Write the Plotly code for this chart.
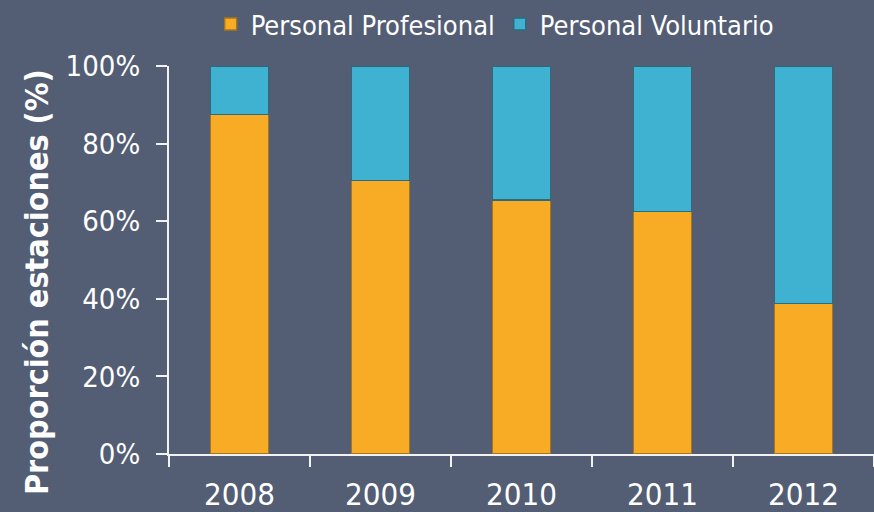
import plotly.graph_objects as go

years = ["2008", "2009", "2010", "2011", "2012"]
profesional = [87.5, 70.5, 65.5, 62.5, 38.8]
voluntario = [100 - v for v in profesional]
y_ticks = [0, 20, 40, 60, 80, 100]
y_tick_labels = ["0%", "20%", "40%", "60%", "80%", "100%"]

BG = "#535d73"
FONT = "DejaVu Sans Condensed, DejaVu Sans, sans-serif"

fig = go.Figure()
fig.add_trace(go.Bar(
    x=years, y=profesional, name="Personal Profesional",
    marker=dict(color="#f8ac26", line=dict(color="#a8741c", width=1.5)),
))
fig.add_trace(go.Bar(
    x=years, y=voluntario, name="Personal Voluntario",
    marker=dict(color="#40b2d1", line=dict(color="#2d6a7e", width=1.5)),
))

fig.update_layout(
    barmode="stack",
    bargap=0.59,
    width=874, height=512,
    paper_bgcolor=BG, plot_bgcolor=BG,
    margin=dict(l=169, r=0, t=66, b=58),
    font=dict(family=FONT, color="white"),
    showlegend=True,
    legend=dict(
        orientation="h", xref="container", yref="container",
        x=0.566, xanchor="center", y=1.0, yanchor="top",
        font=dict(size=27, family=FONT, color="white"),
        bgcolor="rgba(0,0,0,0)", traceorder="normal",
    ),
    xaxis=dict(
        type="category", range=[-0.5, 4.5],
        showline=True, linecolor="#f2f2f2", linewidth=2,
        ticks="outside", tickson="boundaries", ticklen=11, tickwidth=2,
        tickcolor="#f2f2f2", showgrid=False, zeroline=False,
        tickfont=dict(size=31, family=FONT, color="white"),
        ticklabelstandoff=12,
    ),
    yaxis=dict(
        range=[0, 100],
        tickvals=y_ticks, ticktext=y_tick_labels,
        showline=True, linecolor="#f2f2f2", linewidth=2,
        ticks="outside", ticklen=11, tickwidth=2, tickcolor="#f2f2f2",
        showgrid=False, zeroline=False,
        tickfont=dict(size=29, family=FONT, color="white"),
        ticklabelstandoff=10,
    ),
    annotations=[dict(
        text="<b>Proporción estaciones (%)</b>",
        textangle=-90, xref="paper", yref="paper",
        x=-0.218, xanchor="left", y=0.444, yanchor="middle",
        showarrow=False,
        font=dict(size=32, family=FONT, color="white"),
    )],
)

fig.write_html(
    "out.html",
    config={"displayModeBar": False},
    post_script="document.body.style.margin='0';document.body.style.overflow='hidden';",
)
